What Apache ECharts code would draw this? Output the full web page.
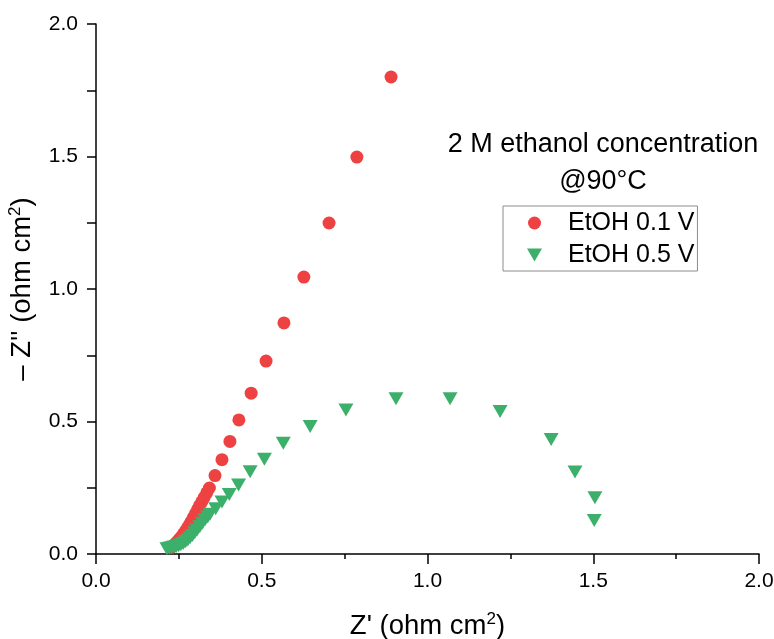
<!DOCTYPE html>
<html>
<head>
<meta charset="utf-8">
<title>Nyquist plot – 2 M ethanol @90°C</title>
<script src="https://cdn.jsdelivr.net/npm/echarts@6/dist/echarts.min.js"></script>
<style>
  html, body { margin: 0; padding: 0; background: #fff; }
  #chart { width: 774px; height: 639px; }
</style>
</head>
<body>
<div id="chart"></div>
<script>
// Impedance spectra (Nyquist form): Z' on x, -Z'' on y, both in ohm cm^2
const seriesNames = ['EtOH 0.1 V', 'EtOH 0.5 V'];

const zReal01 = [0.228, 0.234, 0.240, 0.246, 0.252, 0.258, 0.264, 0.270, 0.276, 0.282,
                 0.288, 0.294, 0.300, 0.306, 0.312, 0.319, 0.326, 0.334, 0.342, 0.359,
                 0.380, 0.404, 0.431, 0.468, 0.513, 0.567, 0.627, 0.703, 0.787, 0.890];
const zImag01 = [0.026, 0.033, 0.040, 0.048, 0.057, 0.066, 0.076, 0.087, 0.099, 0.111,
                 0.124, 0.138, 0.152, 0.167, 0.182, 0.197, 0.213, 0.231, 0.249, 0.296,
                 0.356, 0.425, 0.506, 0.607, 0.728, 0.872, 1.045, 1.249, 1.498, 1.800];

const zReal05 = [0.214, 0.221, 0.228, 0.235, 0.242, 0.249, 0.256, 0.263, 0.270, 0.277,
                 0.284, 0.291, 0.298, 0.305, 0.313, 0.321, 0.329, 0.337, 0.344, 0.361,
                 0.380, 0.402, 0.430, 0.465, 0.508, 0.565, 0.646, 0.754, 0.905, 1.068,
                 1.219, 1.373, 1.445, 1.505, 1.503];
const zImag05 = [0.020, 0.022, 0.024, 0.026, 0.028, 0.031, 0.035, 0.040, 0.046, 0.053,
                 0.061, 0.070, 0.080, 0.091, 0.103, 0.116, 0.129, 0.140, 0.150, 0.171,
                 0.196, 0.225, 0.260, 0.310, 0.358, 0.418, 0.481, 0.543, 0.586, 0.586,
                 0.538, 0.432, 0.309, 0.212, 0.126];

const axisTicks = [0.0, 0.5, 1.0, 1.5, 2.0];
const titleLines = ['2 M ethanol concentration', '@90°C'];

const FONT = '"Liberation Sans", Arial, Helvetica, sans-serif';
const TRI_DOWN = 'path://M0,0L15,0L7.5,13Z';

const pairs = (xs, ys) => xs.map((x, i) => [x, ys[i]]);
const tickFmt = v => v.toFixed(1);

function valueAxis(name, opts) {
  return {
    type: 'value',
    min: axisTicks[0],
    max: axisTicks[axisTicks.length - 1],
    interval: axisTicks[1] - axisTicks[0],
    name: name,
    nameLocation: 'middle',
    nameGap: opts.nameGap,
    nameTextStyle: {
      fontFamily: FONT, fontSize: 27.5, color: '#000', lineHeight: 31,
      rich: { s: { fontFamily: FONT, fontSize: 17, lineHeight: 17, verticalAlign: 'top', color: '#000' } }
    },
    axisLine: { show: true, onZero: false, lineStyle: { color: '#000', width: 1.5 } },
    axisTick: { show: true, inside: false, length: opts.tickLen, lineStyle: { color: '#000', width: 1.5 } },
    minorTick: { show: true, splitNumber: 2, length: opts.minorLen, lineStyle: { color: '#000', width: 1.5 } },
    splitLine: { show: false },
    axisLabel: { fontFamily: FONT, fontSize: 21, color: '#000', margin: opts.labelMargin, formatter: tickFmt }
  };
}

const chart = echarts.init(document.getElementById('chart'), null, { renderer: 'canvas' });

chart.setOption({
  backgroundColor: '#fff',
  animation: false,
  grid: { left: 96, right: 15, top: 24, bottom: 85, containLabel: false, outerBoundsMode: 'none' },
  title: {
    text: titleLines.join('\n'),
    left: 603, top: 126, padding: 0,
    textAlign: 'center',
    textStyle: { fontFamily: FONT, fontSize: 27, fontWeight: 'normal', color: '#000', lineHeight: 37, align: 'center' }
  },
  legend: {
    orient: 'vertical',
    left: 503, top: 206,
    itemWidth: 15, itemHeight: 13, itemGap: 6,
    padding: [4, 3, 3, 24],
    borderColor: '#8c8c8c', borderWidth: 1,
    textStyle: { fontFamily: FONT, fontSize: 25, color: '#000', lineHeight: 26, padding: [0, 0, 0, 21] },
    data: [
      { name: seriesNames[0], icon: 'circle' },
      { name: seriesNames[1], icon: TRI_DOWN }
    ]
  },
  xAxis: valueAxis("Z' (ohm cm{s|2})", { nameGap: 57, tickLen: 10, minorLen: 5, labelMargin: 17 }),
  yAxis: valueAxis("– Z'' (ohm cm{s|2})", { nameGap: 56, tickLen: 9, minorLen: 9, labelMargin: 18 }),
  series: [
    {
      name: seriesNames[0],
      type: 'scatter',
      symbol: 'circle',
      symbolSize: 13,
      itemStyle: { color: '#EE4242', opacity: 1 },
      data: pairs(zReal01, zImag01)
    },
    {
      name: seriesNames[1],
      type: 'scatter',
      symbol: TRI_DOWN,
      symbolSize: [15, 13],
      itemStyle: { color: '#3CB06B', opacity: 1 },
      data: pairs(zReal05, zImag05)
    }
  ]
});
</script>
</body>
</html>
